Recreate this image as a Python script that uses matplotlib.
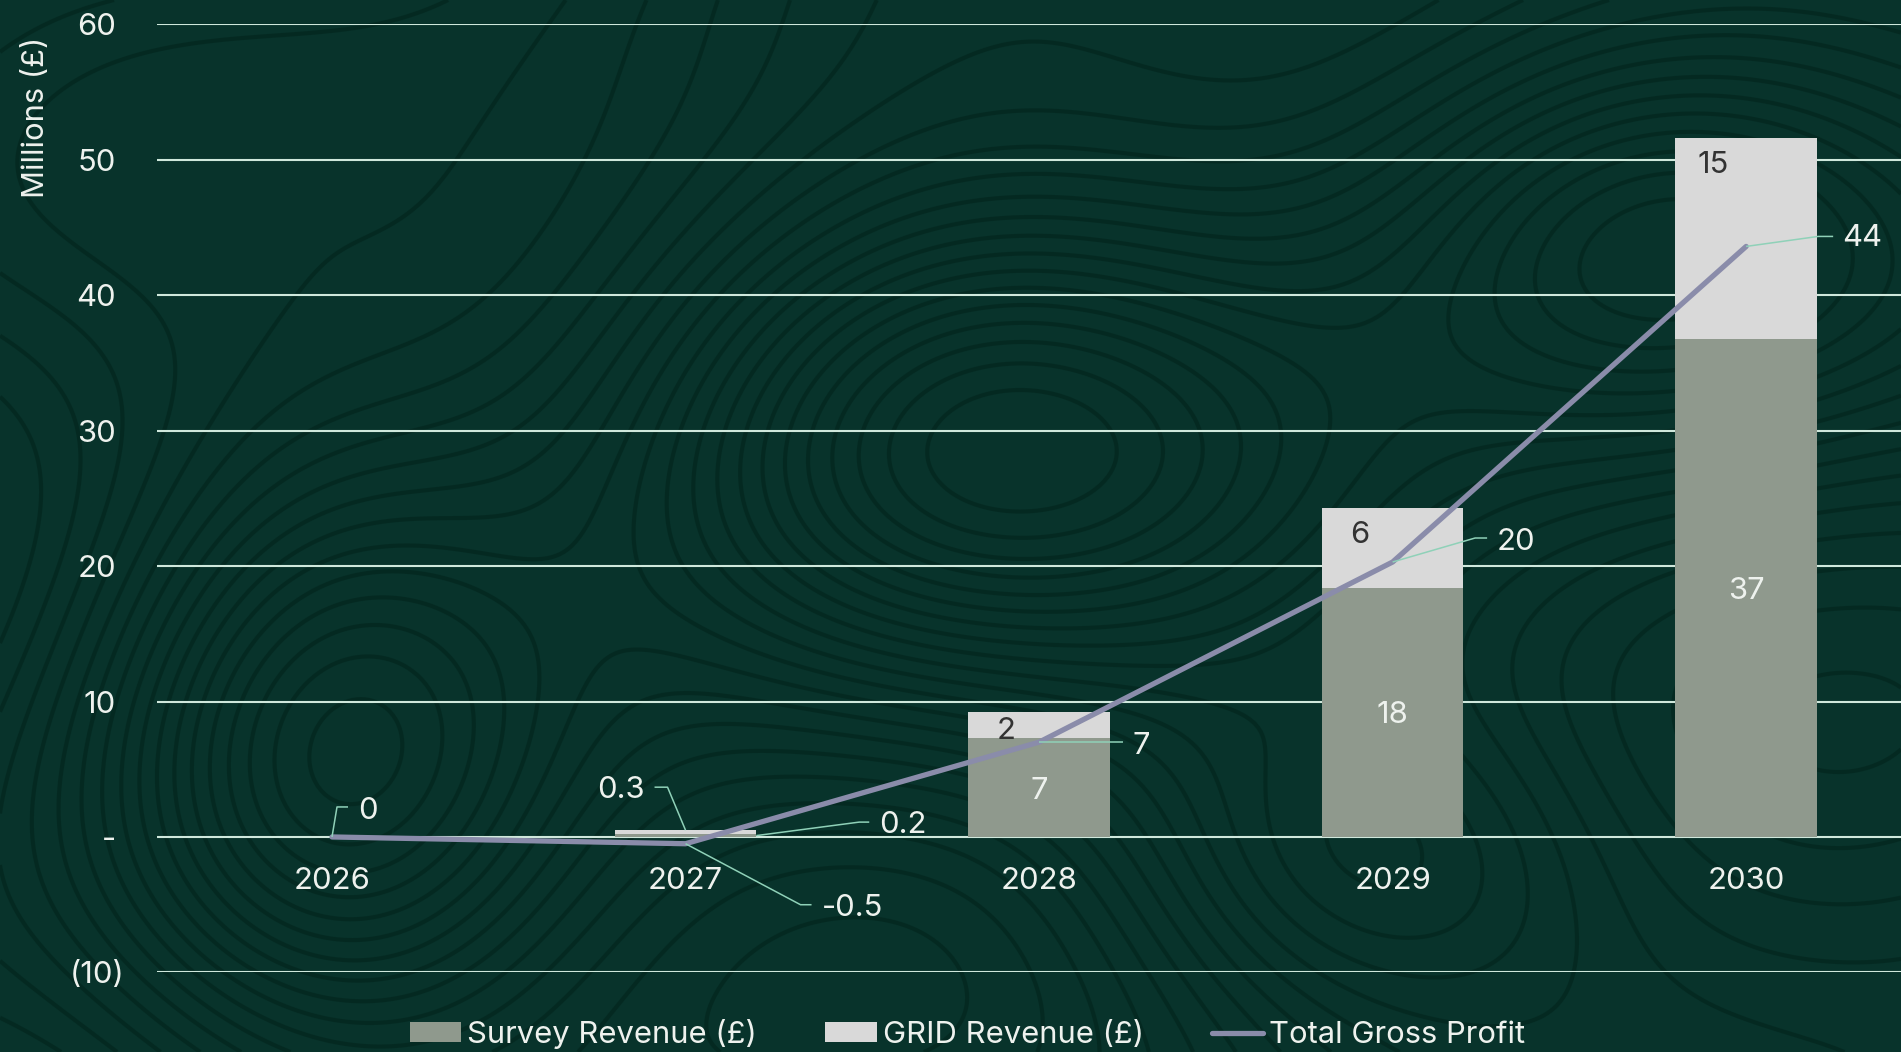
import numpy as np
import matplotlib
matplotlib.use("Agg")
import matplotlib.pyplot as plt
import matplotlib.transforms as mtransforms
from matplotlib.patches import Patch
from matplotlib.lines import Line2D

plt.rcParams['font.family'] = ['Inter', 'DejaVu Sans']
plt.rcParams['contour.negative_linestyle'] = 'solid'

# ---- data (millions of £) ----
years = ["2026", "2027", "2028", "2029", "2030"]
survey_revenue = [0.0, 0.2, 7.3, 18.4, 36.8]
grid_revenue = [0.0, 0.3, 1.9, 5.9, 14.8]
total_gross_profit = [0.0, -0.5, 7.0, 20.3, 43.6]
y_ticks = [-10, 0, 10, 20, 30, 40, 50, 60]
series_names = ["Survey Revenue (£)", "GRID Revenue (£)", "Total Gross Profit"]

# ---- style ----
W, H, DPI = 1901, 1052, 100
BG = "#08332B"
CONTOUR = "#03261E"
TEXT = "#EEF2EE"
GRIDC = "#CFE8DC"
SURVEY_C = "#8F998D"
GRID_C = "#D9D9D9"
LINE_C = "#8A8CAA"
LEADER_C = "#8FD1B8"
DARK_TXT = "#333333"
FS = 22.3
PT = 72.0 / DPI  # points per pixel


def fmt(v):
    if v == 0:
        return "0"
    if abs(v) < 1:
        return f"{v:.1f}"
    return f"{v:.0f}"


def tick_fmt(v):
    if v == 0:
        return "-"
    if v < 0:
        return f"({abs(v)})"
    return str(v)


fig = plt.figure(figsize=(W / DPI, H / DPI), dpi=DPI, facecolor=BG)

# decorative topographic background
bg = fig.add_axes([0, 0, 1, 1], zorder=0)
bg.set_facecolor(BG)
bg.set_xlim(0, W)
bg.set_ylim(H, 0)
bg.axis("off")
gx, gy = np.meshgrid(np.linspace(0, W, 480), np.linspace(0, H, 270))
field = (1.3 * np.exp(-(((gx - 950) / 380) ** 2 + ((gy - 430) / 260) ** 2))
         + 1.0 * np.exp(-(((gx - 1650) / 300) ** 2 + ((gy - 230) / 220) ** 2))
         + 0.8 * np.exp(-(((gx - 330) / 230) ** 2 + ((gy - 760) / 320) ** 2))
         + 0.6 * np.exp(-(((gx - 1350) / 260) ** 2 + ((gy - 860) / 180) ** 2))
         + 0.00035 * gx
         + 0.12 * np.sin(gy / 110.0 + gx / 420.0)
         + 0.08 * np.cos(gx / 160.0 - gy / 300.0))
bg.contour(gx, gy, field, levels=np.linspace(field.min(), field.max(), 26),
           colors=CONTOUR, linewidths=3.0, alpha=0.7, linestyles="solid")

# main chart axes
ax_left = 157 / W
ax_bottom = (H - 972.4) / H
ax_h = (972.4 - 24.3) / H
ax = fig.add_axes([ax_left, ax_bottom, 1 - ax_left, ax_h], zorder=1)
ax.patch.set_alpha(0)
ax.set_xlim(-0.495, 4.438)
ax.set_ylim(-10, 60)
for s in ax.spines.values():
    s.set_visible(False)
ax.set_xticks([])
ax.set_yticks([])

x = np.arange(len(years))
bar_w = 0.4

for v in y_ticks:
    ax.axhline(v, color=GRIDC, lw=1.5, zorder=1)

ax.bar(x, survey_revenue, bar_w, color=SURVEY_C, zorder=2)
ax.bar(x, grid_revenue, bar_w, bottom=survey_revenue, color=GRID_C, zorder=2)
ax.plot(x, total_gross_profit, color=LINE_C, lw=3.8, zorder=4,
        solid_capstyle="round", solid_joinstyle="round")

# y tick labels (accounting style)
ytrans = mtransforms.blended_transform_factory(fig.transFigure, ax.transData)
for v in y_ticks:
    xr = 124 / W if v < 0 else 116 / W
    ax.text(xr, v, tick_fmt(v), transform=ytrans, ha="right", va="center_baseline",
            fontsize=FS, color=TEXT)

# category labels just below the zero line
for i, yr in enumerate(years):
    ax.annotate(yr, (i, 0), xytext=(0, -41 * PT), textcoords="offset points",
                ha="center", va="center_baseline", fontsize=FS, color=TEXT)

fig.text(36 / W, 1 - 117 / H, "Millions (£)", rotation=90, ha="center",
         va="center", fontsize=FS, color=TEXT)

# values inside the bars
for i in range(len(years)):
    s, g = survey_revenue[i], grid_revenue[i]
    if s >= 1:
        ax.text(i, s / 2, fmt(s), ha="center", va="center_baseline",
                fontsize=FS, color=TEXT, zorder=5)
    if g >= 1:
        top = s + g
        off = min(1.77, 0.62 * g)
        ax.text(i - 0.094, top - off, fmt(g), ha="center", va="center_baseline",
                fontsize=FS, color=DARK_TXT, zorder=5)


def leader_label(anchor, pts, text_off, text, ha="left"):
    """Draw a leader line from anchor through offset points (pixels) and a label."""
    ax_, ay_ = ax.transData.transform(anchor)
    xs = [ax_] + [ax_ + p[0] for p in pts]
    ys = [ay_] + [ay_ + p[1] for p in pts]
    inv = ax.transData.inverted()
    dpts = inv.transform(np.column_stack([xs, ys]))
    ax.plot(dpts[:, 0], dpts[:, 1], color=LEADER_C, lw=1.1, zorder=5,
            solid_capstyle="butt")
    ax.annotate(text, anchor, xytext=(text_off[0] * PT, text_off[1] * PT),
                textcoords="offset points", ha=ha, va="center_baseline",
                fontsize=FS, color=TEXT, zorder=6)


# small 2027 stack values with leaders
leader_label((1, survey_revenue[1] + grid_revenue[1]), [(-18, 43), (-31, 43)],
             (-41, 43), fmt(grid_revenue[1]), ha="right")
leader_label((1 + bar_w / 2, survey_revenue[1] / 2), [(103, 13.5), (113, 13.5)],
             (123, 13.5), fmt(survey_revenue[1]))

# profit line labels
profit_leaders = [
    ([(5, 30), (16, 30)], (26, 29)),
    ([(115, -61), (126, -61)], (136, -61.5)),
    ([(84, 0)], (93, -1)),
    ([(82.5, 24), (94.5, 24)], (104.5, 23)),
    ([(72, 10), (87, 10)], (96, 11)),
]
for i, (pts, toff) in enumerate(profit_leaders):
    leader_label((i, total_gross_profit[i]), pts, toff, fmt(total_gross_profit[i]))

handles = [Patch(facecolor=SURVEY_C, edgecolor="none"),
           Patch(facecolor=GRID_C, edgecolor="none"),
           Line2D([0], [0], color=LINE_C, lw=3.8, solid_capstyle="round")]
fig.legend(handles, series_names, loc="center", bbox_to_anchor=(0.509, 1 - 1034 / H),
           ncol=3, frameon=False, handlelength=1.66, handleheight=0.58,
           handletextpad=0.2, columnspacing=2.2, fontsize=FS, labelcolor=TEXT)

fig.savefig("out.png", dpi=DPI, facecolor=BG)
